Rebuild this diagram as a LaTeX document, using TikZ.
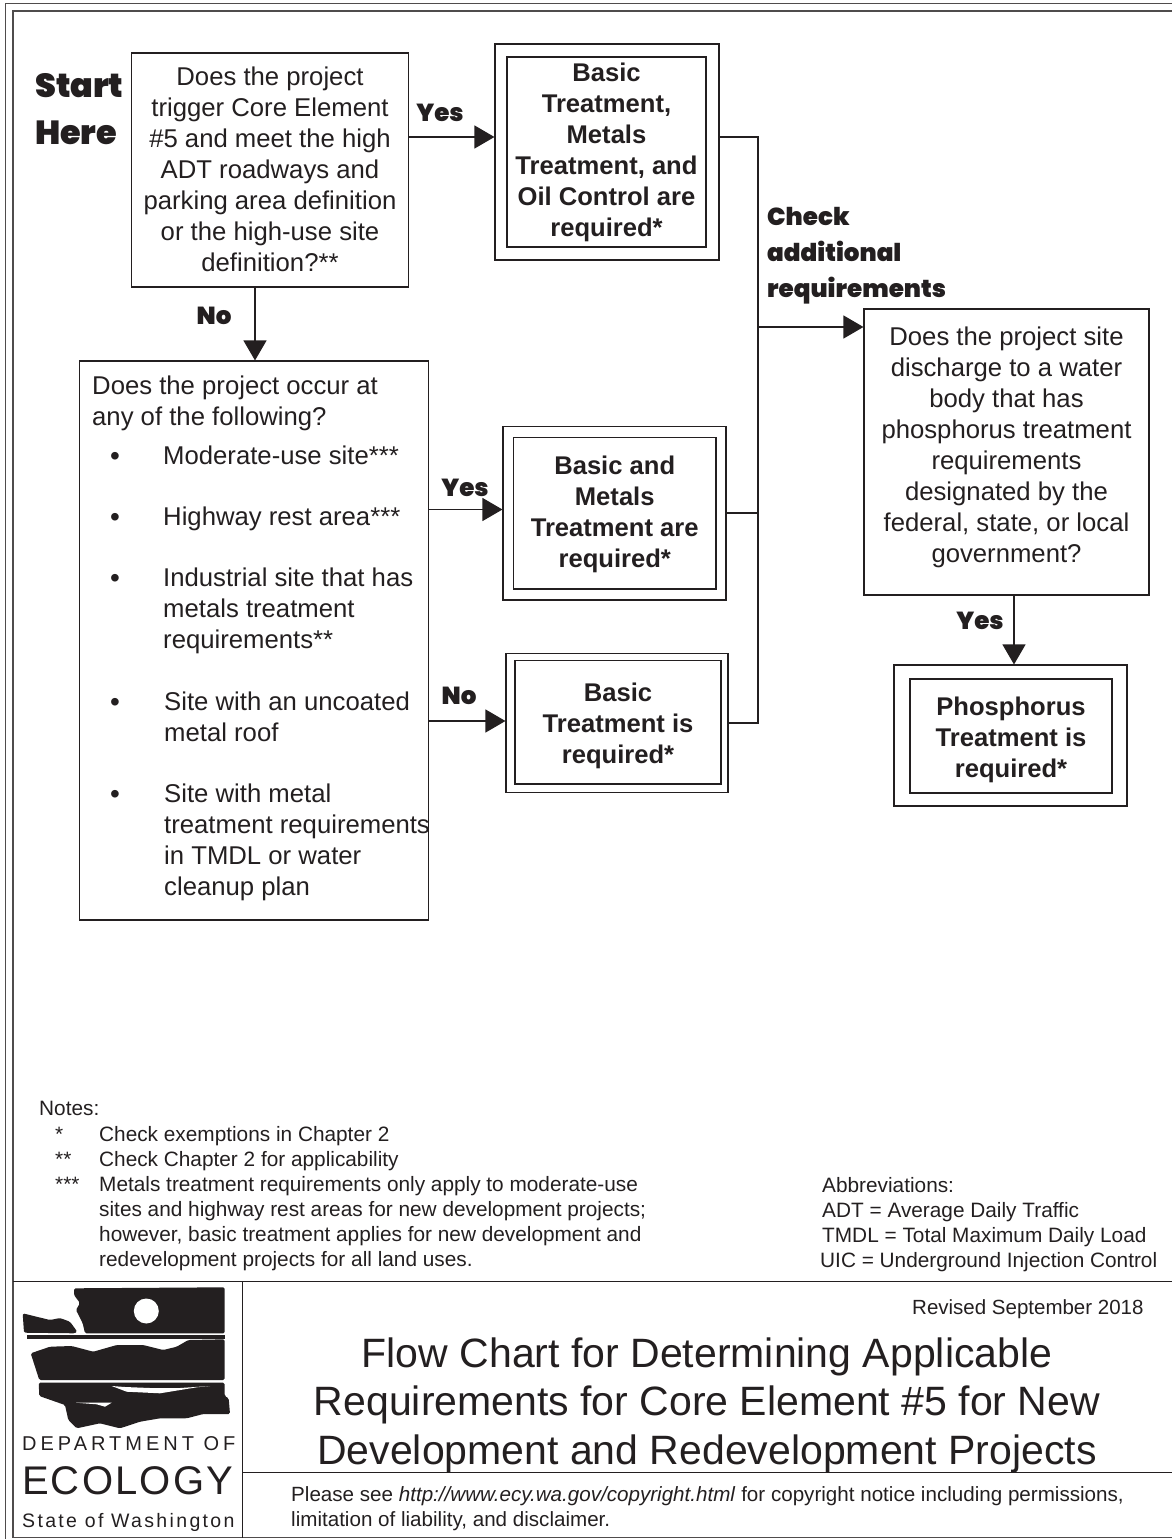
\documentclass[tikz,border=0pt]{standalone}
\usepackage{fontspec}
\usetikzlibrary{arrows.meta}
\setmainfont{Liberation Sans}
\newfontfamily\heavyfont{Poppins Black}
\newfontfamily\deptfont[LetterSpace=20]{Liberation Sans}
\newfontfamily\statefont[LetterSpace=12]{Liberation Sans}
\newfontfamily\ecofont[LetterSpace=5.4]{Liberation Sans}
\definecolor{ink}{HTML}{231F20}
\tikzstyle{question} = [draw=ink, line width=1.1pt, align=center, inner sep=0pt, text=ink, font=\fontsize{25.7}{31}\selectfont]
\tikzstyle{outerbox} = [draw=ink, line width=1.1pt, inner sep=0pt]
\tikzstyle{result} = [outerbox, align=center, text=ink, font=\bfseries\fontsize{25.6}{31}\selectfont]
\tikzstyle{flow} = [draw=ink, line width=1.1pt, -{Triangle[length=20pt,width=23pt]}]
\tikzstyle{link} = [draw=ink, line width=1.1pt]
\tikzstyle{answer} = [anchor=center, inner sep=0pt, text=ink, font=\heavyfont\fontsize{24.6}{36}\selectfont]
\tikzstyle{bodytext} = [anchor=base west, inner sep=0pt, text=ink, align=left, font=\fontsize{25.7}{31}\selectfont]
\tikzstyle{smalltext} = [anchor=base west, inner sep=0pt, text=ink, font=\fontsize{20.8}{25}\selectfont]
\tikzstyle{coast} = [fill=ink, rounded corners=1.5pt]
\begin{document}
\begin{tikzpicture}[x=1pt, y=-1pt]
    \useasboundingbox (0,0) rectangle (1172,1539);
    \draw[ink!80, line width=1pt] (1172,3.5) -- (5.5,3.5) -- (5.5,1539);
    \draw[ink!80, line width=1.4pt] (1172,11) -- (13,11) -- (13,1537.5) -- (1172,1537.5);
    \draw[ink, line width=1pt] (13,1281) -- (1172,1281) (242.5,1281) -- (242.5,1537.5) (242.5,1472) -- (1172,1472);

    \node[question, minimum width=277pt, minimum height=234pt] (q1) at (270,170) {Does the project\\trigger Core Element\\\#5 and meet the high\\ADT roadways and\\parking area definition\\or the high-use site\\definition?**\rule[-2pt]{0pt}{1pt}};
    \node[outerbox, minimum width=224pt, minimum height=216pt] (r1) at (607,152) {};
    \node[result, minimum width=199pt, minimum height=190pt] (r1t) at (606.5,152) {Basic\\Treatment,\\Metals\\Treatment, and\\Oil Control are\\required*};
    \node[outerbox, minimum width=349pt, minimum height=559pt] (q2) at (254,640.5) {};
    \node[outerbox, minimum width=223pt, minimum height=173.5pt] (r2) at (614.5,513.25) {};
    \node[result, minimum width=202.5pt, minimum height=151.5pt] (r2t) at (614.75,513.25) {\rule{0pt}{20pt}Basic and\\Metals\\Treatment are\\required*};
    \node[outerbox, minimum width=222pt, minimum height=139pt] (r3) at (617,723) {};
    \node[result, minimum width=206pt, minimum height=123.5pt] (r3t) at (618,722.25) {\rule{0pt}{26pt}Basic\\Treatment is\\required*};
    \node[question, minimum width=285pt, minimum height=286pt] (q3) at (1006.5,452) {Does the project site\\discharge to a water\\body that has\\phosphorus treatment\\requirements\\designated by the\\federal, state, or local\\government?\rule[-15.4pt]{0pt}{1pt}};
    \node[outerbox, minimum width=233pt, minimum height=141pt] (r4) at (1010.5,735.5) {};
    \node[result, minimum width=202pt, minimum height=114pt] (r4t) at (1011,736) {\rule{0pt}{26pt}Phosphorus\\Treatment is\\required*};

    \coordinate (j1) at (758,327);
    \draw[flow] (q1.east |- 0,137) -- (r1.west |- 0,137);
    \draw[flow] ([xshift=-15pt]q1.south) -- ([xshift=-15pt]q1.south |- q2.north);
    \draw[flow] (q2.east |- 0,509.5) -- (r2.west |- 0,509.5);
    \draw[flow] (q2.east |- 0,721) -- (r3.west |- 0,721);
    \draw[link] (r1.east |- 0,137) -| (j1);
    \draw[link] (r2.east |- 0,513) -| (j1);
    \draw[link] (r3.east |- 0,723) -| (j1);
    \draw[flow] (j1) -- (q3.west |- j1);
    \draw[flow] ([xshift=7.5pt]q3.south) -- ([xshift=3.5pt]r4.north);

    \node[answer, anchor=base west, align=left, font=\heavyfont\fontsize{33.4}{47}\selectfont] (start) at (35,144) {Start\\Here};
    \node[answer] (yes1) at (440,113) {Yes};
    \node[answer] (no1) at (214,316) {No};
    \node[answer] (yes2) at (465,488) {Yes};
    \node[answer] (no2) at (459,696) {No};
    \node[answer] (yes3) at (980,621) {Yes};
    \node[answer, anchor=base west, align=left] (check) at (767,297) {Check\\additional\\requirements};

    \node[bodytext] (ask) at (92,425) {Does the project occur at\\any of the following?};
    \foreach \n/\y in {a/459,b/520,c/581,d/705,e/797}
        \node[inner sep=0pt, text=ink, font=\fontsize{28}{31}\selectfont] (dot\n) at (115,\y) {•};
    \node[bodytext] (ita) at (163,464) {Moderate-use site***};
    \node[bodytext] (itb) at (163,525) {Highway rest area***};
    \node[bodytext] (itc) at (163,648) {Industrial site that has\\metals treatment\\requirements**};
    \node[bodytext] (itd) at (164,741) {Site with an uncoated\\metal roof};
    \node[bodytext] (ite) at (164,895) {Site with metal\\treatment requirements\\in TMDL or water\\cleanup plan};

    \node[smalltext] (notes) at (39,1115) {Notes:};
    \node[smalltext] (s1) at (55,1141) {*};
    \node[smalltext] (n1) at (99,1141) {Check exemptions in Chapter 2};
    \node[smalltext] (s2) at (55,1166) {**};
    \node[smalltext] (n2) at (99,1166) {Check Chapter 2 for applicability};
    \node[smalltext] (s3) at (55,1191) {***};
    \node[smalltext, align=left] (n3) at (99,1266) {Metals treatment requirements only apply to moderate-use\\sites and highway rest areas for new development projects;\\however, basic treatment applies for new development and\\redevelopment projects for all land uses.};
    \node[smalltext] (ab0) at (822,1192) {Abbreviations:};
    \node[smalltext] (ab1) at (822,1217) {ADT = Average Daily Traffic};
    \node[smalltext] (ab2) at (822,1242) {TMDL = Total Maximum Daily Load};
    \node[smalltext] (ab3) at (820,1267) {UIC = Underground Injection Control};

    \node[smalltext, font=\fontsize{20.5}{25}\selectfont] (rev) at (912,1314) {Revised September 2018};
    \node[text=ink, inner sep=0pt, align=center, font=\fontsize{41}{48.5}\selectfont] (title) at (707,1405) {Flow Chart for Determining Applicable\\Requirements for Core Element \#5 for New\\Development and Redevelopment Projects};
    \node[smalltext, align=left, font=\fontsize{20.6}{25}\selectfont] (foot) at (291,1526) {Please see \textit{http://www.ecy.wa.gov/copyright.html} for copyright notice including permissions,\\limitation of liability, and disclaimer.};

    \path[coast] (74,1288.3) -- (224.7,1287.3) -- (224.7,1333.3) -- (85,1333.3) -- (82.7,1323.3) -- (76,1310) -- (80,1303) -- (74,1295) -- cycle;
    \fill[white] (146.3,1311) circle (12.5pt);
    \path[coast] (22.7,1313.3) -- (50,1320) -- (60,1318) -- (70,1321.7) -- (77.3,1331.7) -- (75,1333.3) -- (24,1332.7) -- cycle;
    \fill[ink] (26.7,1335) rectangle (224.7,1339.3);
    \path[coast] (30.7,1353.3) -- (50,1346.7) -- (71.7,1346) -- (93.3,1351.7) -- (116.7,1345) -- (143.3,1345) -- (163.3,1350) -- (176.7,1346.7) -- (188.3,1340) -- (224.7,1339.3) -- (224.7,1380) -- (39.3,1380) -- cycle;
    \path[coast] (38.7,1382.7) -- (224.7,1382.7) -- (224.7,1396) -- (228.7,1398.3) -- (230,1414) -- (203.3,1414) -- (186.7,1418.3) -- (160,1418.3) -- (140,1421.7) -- (120,1428.3) -- (100,1423.3) -- (76.7,1428.3) -- (68.3,1420) -- (65,1405) -- (39.3,1396) -- cycle;
    \fill[white] (111.7,1386) -- (126.7,1391.7) -- (160,1393.3) -- (196.7,1387.3) -- (210,1386) -- (180,1388) -- (150,1388) -- (125,1387) -- cycle;
    \fill[white] (76,1402.7) -- (111.7,1402.7) -- (105,1406.7) -- (96.7,1404.3) -- cycle;
    \node[inner sep=0pt, anchor=base west, text=ink, font=\deptfont\fontsize{20}{22}\selectfont] (dept) at (22,1450) {DEPARTMENT OF};
    \node[inner sep=0pt, anchor=base west, text=ink, font=\ecofont\fontsize{40}{44}\selectfont] (eco) at (22,1494) {ECOLOGY};
    \node[inner sep=0pt, anchor=base west, text=ink, font=\statefont\fontsize{19.5}{22}\selectfont] (state) at (22,1527) {State of Washington};
\end{tikzpicture}
\end{document}
